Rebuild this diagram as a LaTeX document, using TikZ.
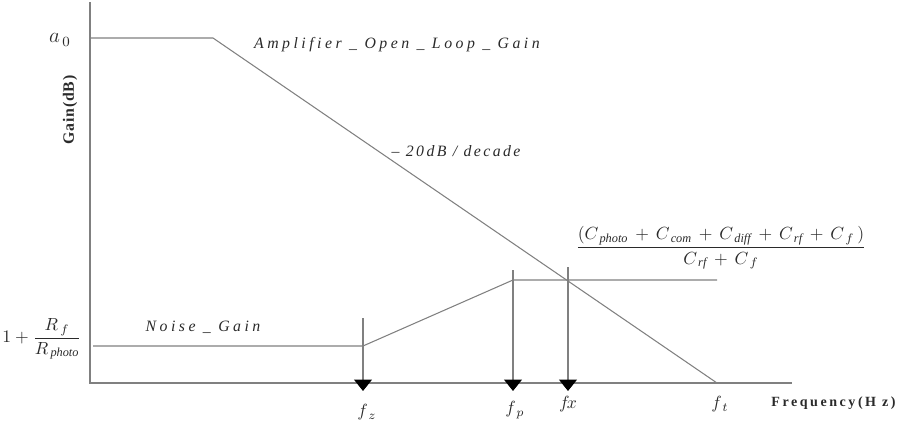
\documentclass[tikz,border=0pt]{standalone}
\usepackage{amsmath}
\usepackage{fontspec}
\setmainfont{Liberation Serif}
\usetikzlibrary{arrows.meta}
\definecolor{axisgray}{HTML}{808080}
\definecolor{inkgray}{HTML}{2A2A2A}
\newcommand{\wide}[2]{{\addfontfeature{LetterSpace=#1}#2}}

\begin{document}
\begin{tikzpicture}[x=0.02cm,y=-0.02cm,
	curve/.style={draw=axisgray,line width=0.6pt},
	marker/.style={draw=axisgray,line width=0.6pt,-{Triangle[width=0.36cm,length=0.23cm,color=black]}},
	lbl/.style={text=inkgray,inner sep=0pt}]
	\useasboundingbox (0,0) rectangle (900,423);
	
	% axes
	\coordinate (O) at (90,383);
	\coordinate (ytop) at (90,2);
	\coordinate (xend) at (792,383);
	\draw [curve] (ytop) -- (O) -- (xend);
	
	% open loop gain
	\coordinate (a0pt) at (90,38);
	\coordinate (knee) at (213,38);
	\coordinate (ft) at (717,383);
	\draw [curve] (a0pt) -- (knee) -- (ft);
	
	% noise gain
	\coordinate (ngstart) at (93,346);
	\coordinate (zero) at (363,346);
	\coordinate (pole) at (513,280);
	\coordinate (ngend) at (717,280);
	\draw [curve] (ngstart) -- (zero) -- (pole) -- (ngend);
	
	\foreach \n/\x/\t in {fz/363/318,fp/513/270,fx/568/267}{
		\coordinate (\n top) at (\x,\t);
		\coordinate (\n tip) at (\x,391);
		\draw [marker] (\n top) -- (\n tip);
	}
	
	% labels
	\node (a0) [lbl] at (60,40) {\large$a_{\,0}$};
	\node (gain) [lbl,rotate=90,font=\small\bfseries] at (70,110) {\wide{5}{Gain(dB)}};
	\node (freq) [lbl,anchor=east,font=\footnotesize\bfseries] at (896,403) {\wide{18}{Frequency(H z)}};
	\node (olg) [lbl,font=\small\itshape] at (397,45) {\wide{22}{Amplifier \_ Open \_ Loop \_ Gain}};
	\node (slope) [lbl,font=\small\itshape] at (456,151) {\wide{15}{{\upshape\textendash} 20\,dB / decade}};
	\node (ng) [lbl,font=\small\itshape] at (203,327) {\wide{22}{Noise \_ Gain}};
	\node (low) [lbl] at (42,339) {$1+\dfrac{R_{\,f}}{R_{\,\mathit{photo}}}$};
	\node (high) [lbl] at (721,248) {$\dfrac{(C_{\,\mathit{photo}}\,+\,C_{\,\mathit{com}}\,+\,C_{\,\mathit{diff}}\,+\,C_{\,\mathit{rf}}\,+\,C_{\,f}\,)}{C_{\,\mathit{rf}}\,+\,C_{\,f}}$};
	
	\node (fzl) [lbl] at (367,412) {$f_{\,z}$};
	\node (fpl) [lbl] at (515,410) {$f_{\,p}$};
	\node (fxl) [lbl] at (568,404) {$f\!x$};
	\node (ftl) [lbl] at (720,404) {$f_{\,t}$};
\end{tikzpicture}
\end{document}
